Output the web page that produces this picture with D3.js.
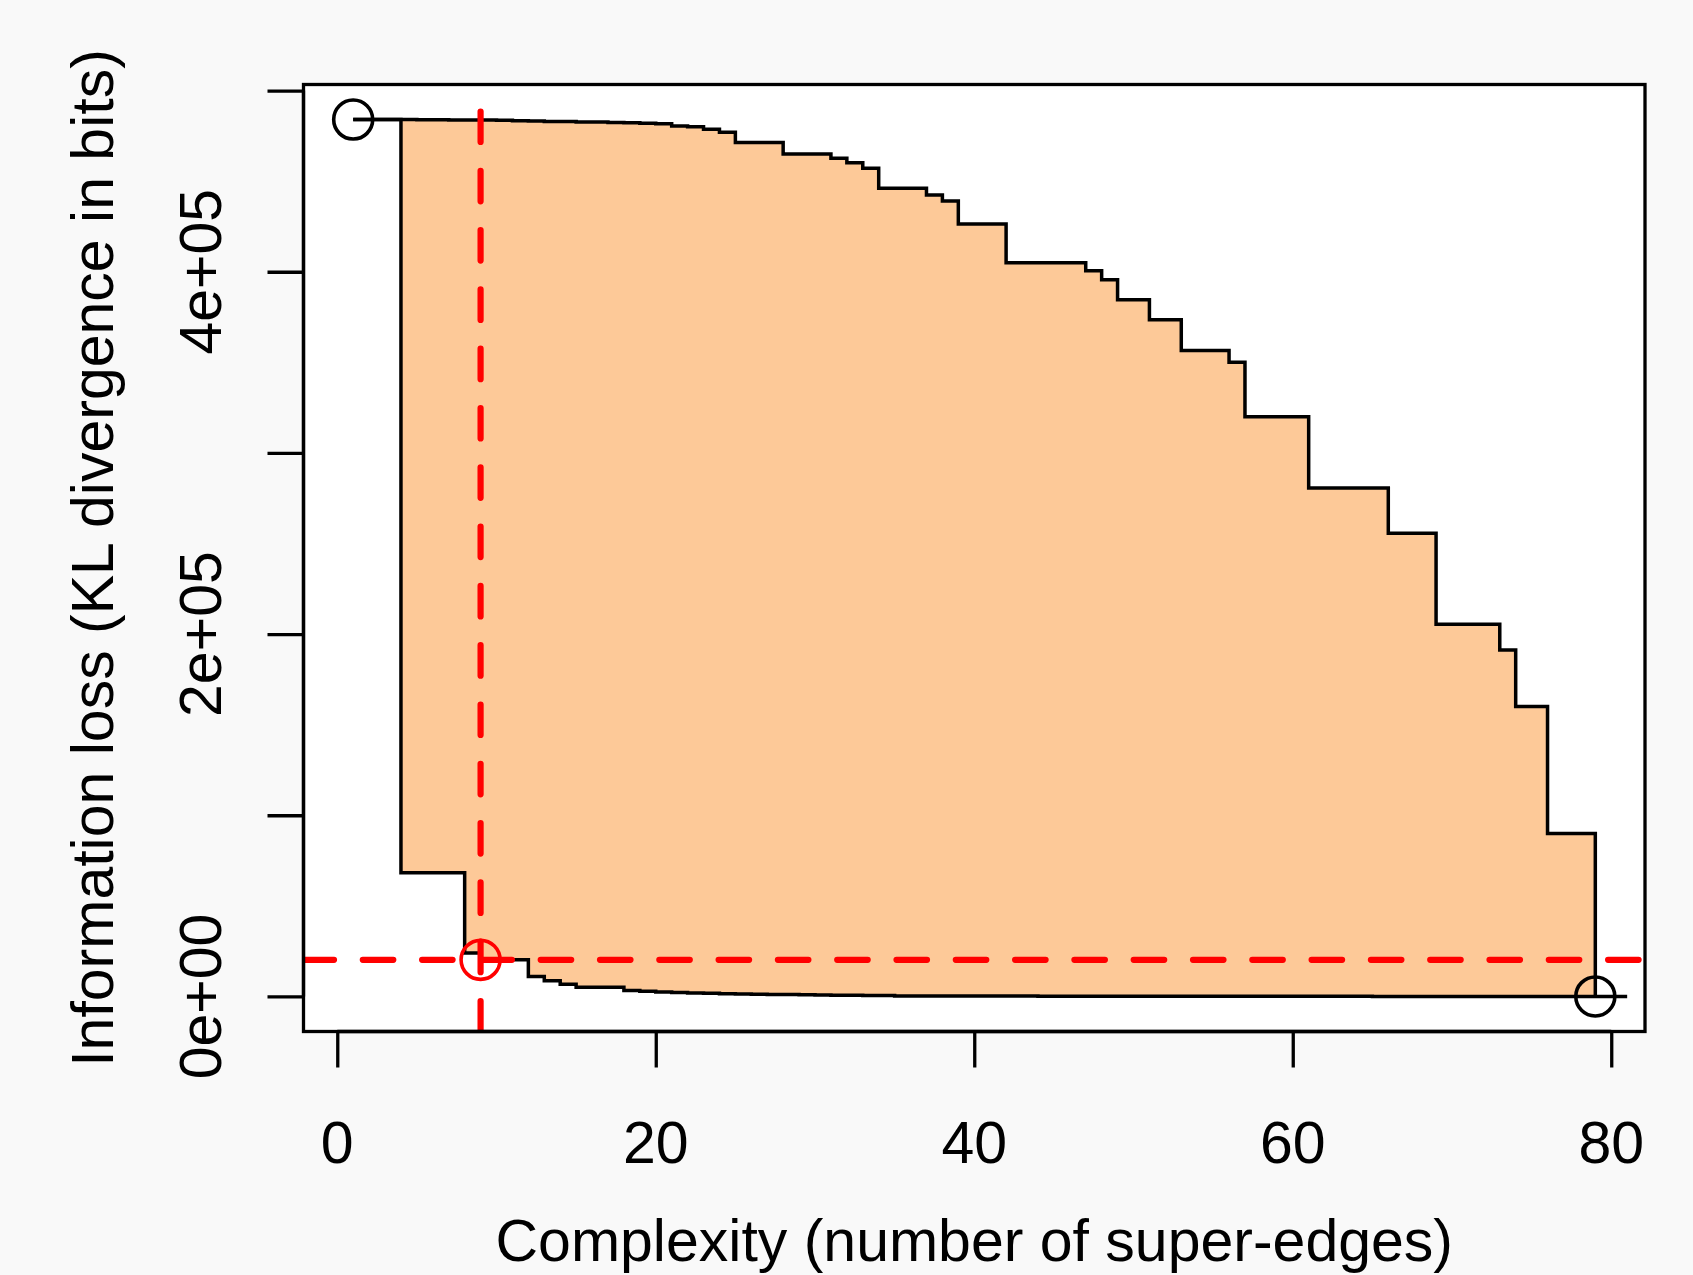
<!DOCTYPE html>
<html><head><meta charset="utf-8">
<script src="https://cdn.jsdelivr.net/npm/d3@7"></script>
<style>
body{margin:0;background:#f9f9f9;}
svg text{font-family:"Liberation Sans",Arial,Helvetica,sans-serif;fill:#000;}
</style>
</head><body>
<svg id="chart" width="1693" height="1275"></svg>
<script>
// ---- data ----
const complexityUpper = [1,2,3,4,5,6,7,8,9,10,11,12,13,14,15,16,17,18,19,20,21,22,23,24,25,26,27,28,29,30,31,32,33,34,35,36,37,38,39,40,41,42,43,44,45,46,47,48,49,50,51,52,53,54,55,56,57,58,59,60,61,62,63,64,65,66,67,68,69,70,71,72,73,74,75,76,77,78,79];
const lossUpper = [484000,484000,484000,484000,483900,483900,483800,483800,483700,483600,483400,483200,483000,482900,482700,482600,482400,482300,482000,481700,480500,480000,478700,477000,471300,471300,471300,465000,465000,465000,462700,460200,457200,446100,446100,446100,442400,439100,426300,426300,426300,405000,405000,405000,405000,405000,400500,395600,384600,384600,373500,373500,356500,356500,356500,350000,320000,320000,320000,320000,280600,280600,280600,280600,280600,255600,255600,255600,205400,205400,205400,205400,191200,160000,160000,89900,89900,89900,0];
const complexityLower = [1,2,3,4,5,6,7,8,9,10,11,12,13,14,15,16,17,18,19,20,21,22,23,24,25,26,27,28,29,30,31,32,33,34,35,36,37,38,39,40,41,42,43,44,45,46,47,48,49,50,51,52,53,54,55,56,57,58,59,60,61,62,63,64,65,66,67,68,69,70,71,72,73,74,75,76,77,78,79,80,81];
const lossLower = [484000,484000,484000,68300,68300,68300,68300,24000,20200,20200,20200,11000,8600,6700,5000,5000,5000,3300,2900,2500,2200,1900,1700,1500,1300,1200,1100,1000,900,800,700,600,550,500,300,280,260,240,220,200,190,180,170,160,150,140,130,120,110,100,95,90,85,80,75,70,65,60,55,50,45,40,36,32,28,24,20,17,14,11,9,7,5,4,3,2,1,1,0,0,0];
const endpoints = [{x:1, y:484000}, {x:79, y:0}];
const optimum = {x:9, y:20200};
const xTicks = [0,20,40,60,80];
const xTickLabels = ["0","20","40","60","80"];
const yTicks = [0,100000,200000,300000,400000,500000];
const yTickLabels = ["0e+00","","2e+05","","4e+05",""];
const xTitle = "Complexity (number of super-edges)";
const yTitle = "Information loss (KL divergence in bits)";

// ---- layout ----
const L = 303.5, R = 1645, T = 84.5, B = 1031.5;
const FS = 59;
const svg = d3.select("#chart");

const xr = d3.extent(complexityUpper), xs = (xr[1]-xr[0])*0.04;
const yr = [0, d3.max(lossUpper)], ys = (yr[1]-yr[0])*0.04;
const x = d3.scaleLinear().domain([xr[0]-xs, xr[1]+xs]).range([L, R]);
const y = d3.scaleLinear().domain([yr[0]-ys, yr[1]+ys]).range([B, T]);

svg.append("rect").attr("x",L).attr("y",T).attr("width",R-L).attr("height",B-T).attr("fill","#fff");
svg.append("clipPath").attr("id","clip").append("rect").attr("x",L).attr("y",T).attr("width",R-L).attr("height",B-T);
const g = svg.append("g").attr("clip-path","url(#clip)");

// filled region between the two step curves
const lowerMap = new Map(complexityLower.map((c,i)=>[c, lossLower[i]]));
const band = complexityUpper.map((c,i)=>({x:c, hi:lossUpper[i], lo:lowerMap.get(c)}));
g.append("path").datum(band)
  .attr("fill","#fdc998")
  .attr("d", d3.area().curve(d3.curveStepAfter).x(d=>x(d.x)).y0(d=>y(d.lo)).y1(d=>y(d.hi)));

const line = d3.line().curve(d3.curveStepAfter).x(d=>x(d[0])).y(d=>y(d[1]));
g.append("path").datum(complexityUpper.map((c,i)=>[c,lossUpper[i]]))
  .attr("fill","none").attr("stroke","#000").attr("stroke-width",3.5).attr("d",line);
g.append("path").datum(complexityLower.map((c,i)=>[c,lossLower[i]]))
  .attr("fill","none").attr("stroke","#000").attr("stroke-width",3.5).attr("d",line);

// reference dashed lines
g.append("path").attr("d", `M${L},${y(optimum.y)}H${R}`)
  .attr("stroke","#ff0000").attr("stroke-width",6.2).attr("stroke-dasharray","30.5 28.8").attr("stroke-linecap","round").attr("fill","none");
g.append("path").attr("d", `M${x(optimum.x)},${B}V${T}`)
  .attr("stroke","#ff0000").attr("stroke-width",6.2).attr("stroke-dasharray","30.5 28.8").attr("stroke-linecap","round").attr("fill","none");

// circles
g.selectAll("circle.end").data(endpoints).enter().append("circle")
  .attr("cx",d=>x(d.x)).attr("cy",d=>y(d.y)).attr("r",19.5)
  .attr("fill","none").attr("stroke","#000").attr("stroke-width",3.6);
g.append("circle").attr("cx",x(optimum.x)).attr("cy",y(optimum.y)).attr("r",19.5)
  .attr("fill","none").attr("stroke","#ff0000").attr("stroke-width",3.6);

// box
svg.append("rect").attr("x",L).attr("y",T).attr("width",R-L).attr("height",B-T)
  .attr("fill","none").attr("stroke","#000").attr("stroke-width",3.3);

// axes
const xAxis = d3.axisBottom(x).tickValues(xTicks).tickSize(36).tickSizeOuter(0).tickFormat("");
const xa = svg.append("g").attr("transform",`translate(0,${B})`).call(xAxis);
xa.select(".domain").attr("d",`M${x(xTicks[0])},0H${x(xTicks[xTicks.length-1])}`).attr("stroke-width",3.3);
xa.selectAll(".tick line").attr("stroke-width",3.3);

const yAxis = d3.axisLeft(y).tickValues(yTicks).tickSize(36).tickSizeOuter(0).tickFormat("");
const ya = svg.append("g").attr("transform",`translate(${L},0)`).call(yAxis);
ya.select(".domain").attr("d",`M0,${y(yTicks[0])}V${y(yTicks[yTicks.length-1])}`).attr("stroke-width",3.3);
ya.selectAll(".tick line").attr("stroke-width",3.3);

svg.selectAll("text.xt").data(xTicks).enter().append("text")
  .attr("x",d=>x(d)).attr("y",1163).attr("text-anchor","middle").attr("font-size",FS)
  .text((d,i)=>xTickLabels[i]);
svg.selectAll("text.yt").data(yTicks).enter().append("text")
  .attr("transform",d=>`translate(221,${y(d)}) rotate(-90)`).attr("text-anchor","middle").attr("font-size",FS)
  .text((d,i)=>yTickLabels[i]);

svg.append("text").attr("x",(L+R)/2).attr("y",1261).attr("text-anchor","middle").attr("font-size",FS).text(xTitle);
svg.append("text").attr("transform",`translate(113,${(T+B)/2}) rotate(-90)`).attr("text-anchor","middle").attr("font-size",FS).text(yTitle);
</script>
</body></html>
